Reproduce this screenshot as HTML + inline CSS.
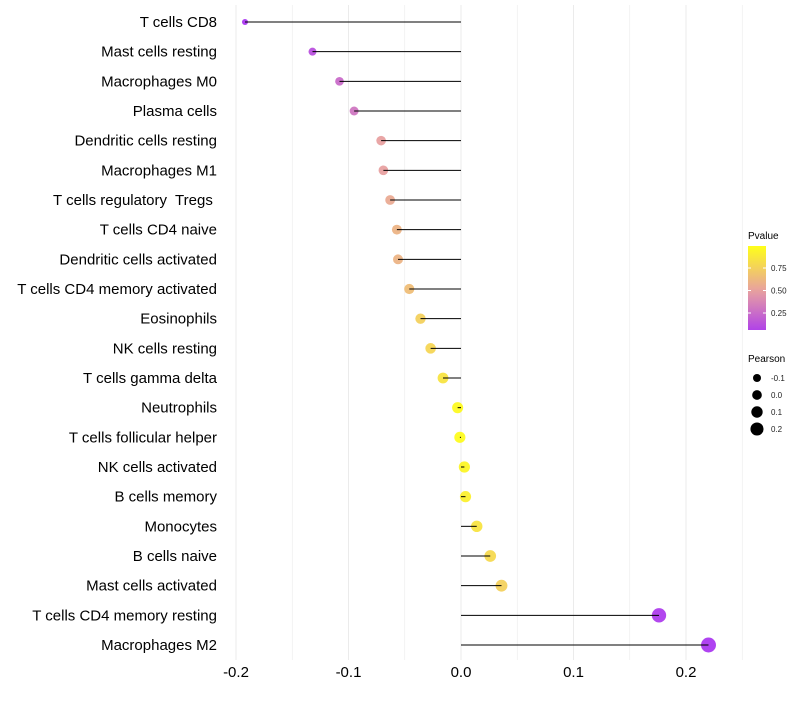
<!DOCTYPE html>
<html><head><meta charset="utf-8"><style>
body{margin:0;background:#fff;font-family:"Liberation Sans",sans-serif;}
svg text{font-family:"Liberation Sans",sans-serif;white-space:pre;}
</style></head><body>
<svg id="c" width="800" height="700"></svg>
<script>
const cats=["T cells CD8","Mast cells resting","Macrophages M0","Plasma cells","Dendritic cells resting","Macrophages M1","T cells regulatory  Tregs ","T cells CD4 naive","Dendritic cells activated","T cells CD4 memory activated","Eosinophils","NK cells resting","T cells gamma delta","Neutrophils","T cells follicular helper","NK cells activated","B cells memory","Monocytes","B cells naive","Mast cells activated","T cells CD4 memory resting","Macrophages M2"];
const pearson=[-0.192,-0.132,-0.108,-0.095,-0.071,-0.069,-0.063,-0.057,-0.056,-0.046,-0.036,-0.027,-0.016,-0.003,-0.001,0.003,0.004,0.014,0.026,0.036,0.176,0.22];
const pvalue=[0.0,0.12,0.25,0.3,0.5,0.5,0.55,0.6,0.6,0.65,0.75,0.78,0.85,0.97,0.98,0.95,0.92,0.85,0.8,0.75,0.03,0.01];
const xTicks=[-0.2,-0.1,0.0,0.1,0.2];
const colTicks=[0.25,0.5,0.75];
const sizeTicks=[-0.1,0.0,0.1,0.2];
const NS="http://www.w3.org/2000/svg",svg=document.getElementById('c');
function el(t,a,p){const e=document.createElementNS(NS,t);for(const k in a)e.setAttribute(k,a[k]);(p||svg).appendChild(e);return e;}
const x=v=>461+v*1125;
const y=i=>22+i*(623/21);
const rad=v=>Math.sqrt(Math.max(3,31+114*v));
function col(p){const s=[[160,32,240],[229,150,150],[255,255,0]];let t=Math.max(0,Math.min(1,p))*2,i=t>=1?1:0;t-=i;const a=s[i],b=s[i+1];return `rgb(${a.map((c,k)=>Math.round(c+(b[k]-c)*t)).join(',')})`;}
for(let v=-0.2;v<=0.251;v+=0.05){const g=el('line',{x1:x(v),x2:x(v),y1:5,y2:660,stroke:'#ebebeb','stroke-width':Math.abs(Math.round(v*20))%2===0?1:0.6});
}
xTicks.forEach(v=>{const t=el('text',{x:x(v),y:677,'text-anchor':'middle','font-size':15,fill:'#000'});t.textContent=v.toFixed(1);
});
cats.forEach((c,i)=>{
const t=el('text',{x:217,y:y(i)+5,'text-anchor':'end','font-size':15,fill:'#000'});t.textContent=c;

const d=el('circle',{cx:x(pearson[i]),cy:y(i),r:rad(pearson[i]),fill:col(pvalue[i]),'fill-opacity':0.85});

const l=el('line',{x1:x(0),x2:x(pearson[i]),y1:y(i),y2:y(i),stroke:'#000','stroke-width':1});

});
const lt=el('text',{x:748,y:239,'font-size':10,fill:'#000'});lt.textContent='Pvalue';

const defs=el('defs',{});const gr=el('linearGradient',{id:'g',x1:0,y1:1,x2:0,y2:0},defs);
for(let k=0;k<=10;k++){const p=0.06+(1-0.06)*k/10;el('stop',{offset:k/10,'stop-color':col(p),'stop-opacity':0.9},gr);}
const cb=el('rect',{x:748,y:246,width:18,height:84,fill:'url(#g)'});

const cy=p=>335.5-p*90;
colTicks.forEach(p=>{el('line',{x1:748,x2:751,y1:cy(p),y2:cy(p),stroke:'#fff'});el('line',{x1:763,x2:766,y1:cy(p),y2:cy(p),stroke:'#fff'});
const t=el('text',{x:771,y:cy(p)+3,'font-size':8,fill:'#222'});t.textContent=p.toFixed(2);
});
const st=el('text',{x:748,y:362,'font-size':10,fill:'#000'});st.textContent='Pearson';

const lrad=v=>4+(v+0.1)*8.5;
sizeTicks.forEach((v,k)=>{const yy=378+k*17;
const c=el('circle',{cx:757,cy:yy,r:lrad(v),fill:'#000'});
const t=el('text',{x:771,y:yy+3,'font-size':8,fill:'#222'});t.textContent=v.toFixed(1);
});
</script>
</body></html>
